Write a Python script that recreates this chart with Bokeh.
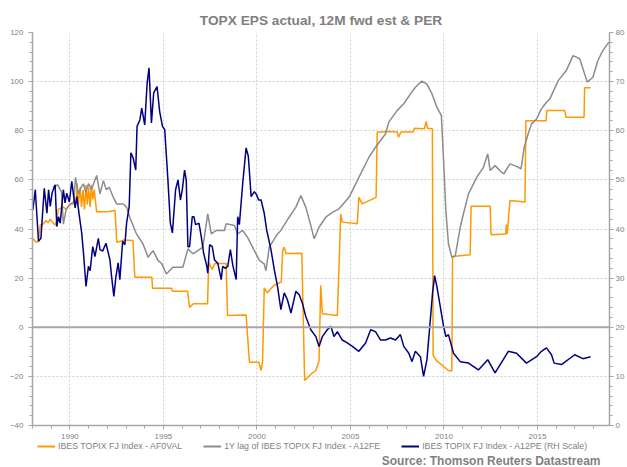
from bokeh.plotting import figure
from bokeh.layouts import column
from bokeh.models import Range1d, LinearAxis, FixedTicker, Span, Legend, LegendItem, Title
from bokeh.embed import file_html
from bokeh.resources import INLINE

# ---- data ----
eps_years = [1988.00, 1988.20, 1988.32, 1988.41, 1988.57, 1988.73, 1988.84, 1988.95, 1989.05, 1989.21,
             1989.32, 1989.37, 1989.64, 1989.80, 1990.00, 1990.33, 1990.38, 1990.45, 1990.55, 1990.62,
             1990.70, 1990.78, 1990.86, 1990.93, 1991.00, 1991.08, 1991.15, 1991.22, 1991.30, 1991.43,
             1992.00, 1992.41, 1992.51, 1992.90, 1993.37, 1993.47, 1994.38, 1994.42, 1995.43, 1995.48,
             1996.29, 1996.40, 1996.60, 1997.36, 1997.42, 1997.60, 1997.75, 1998.35, 1998.43, 1999.42,
             1999.60, 2000.10, 2000.22, 2000.30, 2000.39, 2000.55, 2000.90, 2001.30, 2001.38, 2001.46,
             2001.55, 2002.40, 2002.55, 2002.90, 2003.15, 2003.32, 2003.41, 2003.50, 2004.30, 2004.48,
             2004.56, 2005.36, 2005.45, 2005.63, 2006.37, 2006.43, 2007.00, 2007.50, 2007.57, 2007.70,
             2008.35, 2008.42, 2008.95, 2009.05, 2009.12, 2009.38, 2009.42, 2009.60, 2010.24, 2010.42,
             2010.46, 2011.40, 2011.45, 2012.47, 2012.52, 2013.30, 2013.34, 2013.38, 2013.53, 2014.33,
             2014.38, 2015.46, 2015.50, 2016.46, 2016.52, 2017.49, 2017.52, 2017.84]
eps_actual = [36.2, 34.6, 35.0, 41.5, 42.0, 43.5, 42.5, 44.0, 43.0, 41.5,
              44.0, 48.0, 49.0, 48.0, 50.0, 50.5, 58.5, 50.0, 57.0, 49.0,
              56.0, 48.0, 58.0, 50.0, 57.0, 49.0, 58.0, 52.0, 56.0, 47.0,
              47.0, 47.5, 34.6, 35.5, 35.3, 20.4, 20.4, 15.9, 15.9, 14.7,
              14.7, 8.1, 9.6, 9.6, 26.5, 23.5, 26.0, 26.0, 4.8, 5.0,
              -14.2, -14.2, -17.6, -14.0, 16.0, 14.0, 17.0, 18.5, 31.5, 32.6,
              30.0, 30.1, -21.7, -19.0, -17.6, -13.6, 17.0, 5.5, 4.8, 46.2,
              42.8, 42.1, 52.9, 50.2, 52.9, 79.4, 79.7, 79.5, 77.4, 79.5,
              79.5, 81.0, 80.8, 83.8, 81.0, 80.8, -11.5, -13.6, -17.6, -17.8,
              28.8, 29.5, 49.3, 49.3, 37.7, 38.0, 41.8, 38.0, 51.6, 51.0,
              84.1, 84.1, 88.2, 88.2, 85.5, 85.5, 97.5, 97.5]

fwd_years = [1989.10, 1989.35, 1989.55, 1989.65, 1989.80, 1990.00, 1990.20, 1990.30, 1990.45, 1990.60,
             1990.72, 1990.85, 1991.00, 1991.15, 1991.43, 1991.61, 1991.79, 1991.95, 1992.10, 1992.32,
             1992.50, 1992.85, 1993.03, 1993.20, 1993.56, 1993.91, 1994.18, 1994.45, 1994.71, 1994.90,
             1995.16, 1995.50, 1996.04, 1996.31, 1996.58, 1997.11, 1997.37, 1997.56, 1997.82, 1998.26,
             1998.35, 1998.80, 1998.97, 1999.24, 1999.50, 1999.95, 2000.13, 2000.39, 2000.48, 2000.66,
             2001.10, 2001.28, 2001.72, 2002.08, 2002.35, 2002.61, 2002.88, 2003.06, 2003.32, 2003.68,
             2004.03, 2004.39, 2004.92, 2005.28, 2005.63, 2005.99, 2006.34, 2006.87, 2007.05, 2007.49,
             2007.85, 2008.21, 2008.47, 2008.82, 2009.09, 2009.36, 2009.62, 2009.86, 2009.98, 2010.10,
             2010.24, 2010.42, 2010.60, 2010.87, 2011.04, 2011.31, 2011.75, 2012.11, 2012.34, 2012.47,
             2012.73, 2013.08, 2013.20, 2013.53, 2013.88, 2014.12, 2014.29, 2014.50, 2014.68, 2014.95,
             2015.21, 2015.48, 2015.66, 2016.11, 2016.54, 2016.90, 2017.26, 2017.66, 2017.96, 2018.23,
             2018.50, 2018.82]
fwd_lag = [57.0, 58.0, 55.0, 42.0, 48.0, 50.0, 51.0, 61.0, 54.3, 57.0,
           58.4, 55.0, 58.5, 56.0, 61.8, 54.3, 59.7, 56.0, 57.0, 52.9,
           50.2, 50.2, 48.9, 44.8, 38.0, 33.9, 28.5, 31.2, 27.2, 26.0,
           21.7, 24.4, 24.4, 31.9, 29.9, 32.6, 46.2, 38.0, 39.4, 39.4,
           42.1, 41.4, 38.0, 39.4, 36.6, 29.9, 27.2, 25.8, 23.0, 32.6,
           38.0, 39.4, 44.8, 48.9, 53.6, 48.9, 41.4, 36.0, 40.7, 44.8,
           46.8, 48.2, 52.9, 58.4, 63.8, 69.2, 73.3, 78.7, 83.5, 88.2,
           91.0, 95.0, 97.7, 100.2, 99.0, 95.0, 89.6, 86.2, 67.9, 47.5,
           34.0, 28.5, 29.0, 40.7, 46.2, 54.3, 61.0, 65.1, 70.6, 63.8,
           65.8, 63.1, 62.5, 66.5, 65.5, 64.5, 73.3, 78.7, 82.8, 84.8,
           88.9, 91.6, 93.0, 100.4, 104.5, 110.6, 109.3, 99.8, 101.8, 108.6,
           112.7, 116.1]

per_years = [1988.02, 1988.15, 1988.32, 1988.45, 1988.63, 1988.77, 1988.86, 1988.95, 1989.05, 1989.21,
             1989.30, 1989.39, 1989.48, 1989.65, 1989.74, 1989.83, 1989.97, 1990.10, 1990.19, 1990.28,
             1990.37, 1990.51, 1990.63, 1990.72, 1990.86, 1990.99, 1991.08, 1991.22, 1991.34, 1991.52,
             1991.61, 1991.75, 1991.93, 1992.14, 1992.23, 1992.35, 1992.46, 1992.58, 1992.67, 1992.82,
             1992.94, 1993.03, 1993.17, 1993.26, 1993.38, 1993.52, 1993.59, 1993.74, 1993.84, 1994.00,
             1994.13, 1994.23, 1994.36, 1994.48, 1994.66, 1994.80, 1994.95, 1995.07, 1995.24, 1995.37,
             1995.48, 1995.65, 1995.78, 1995.91, 1996.01, 1996.13, 1996.22, 1996.31, 1996.40, 1996.54,
             1996.63, 1996.72, 1996.90, 1997.02, 1997.15, 1997.32, 1997.37, 1997.47, 1997.61, 1997.73,
             1997.91, 1998.09, 1998.17, 1998.32, 1998.44, 1998.58, 1998.71, 1998.89, 1998.97, 1999.06,
             1999.24, 1999.42, 1999.54, 1999.69, 1999.86, 1999.98, 2000.09, 2000.22, 2000.39, 2000.52,
             2000.75, 2000.93, 2001.10, 2001.28, 2001.46, 2001.63, 2001.82, 2002.08, 2002.26, 2002.43,
             2002.61, 2002.88, 2003.15, 2003.32, 2003.50, 2003.76, 2003.95, 2004.12, 2004.30, 2004.56,
             2004.83, 2005.10, 2005.45, 2005.81, 2006.08, 2006.34, 2006.61, 2006.87, 2007.14, 2007.41,
             2007.67, 2007.85, 2008.12, 2008.29, 2008.47, 2008.74, 2008.91, 2009.09, 2009.27, 2009.39,
             2009.50, 2009.62, 2009.86, 2009.98, 2010.10, 2010.24, 2010.51, 2010.87, 2011.31, 2011.84,
             2012.34, 2012.73, 2013.17, 2013.44, 2013.88, 2014.41, 2014.95, 2015.21, 2015.48, 2015.75,
             2015.89, 2016.28, 2016.99, 2017.43, 2017.84]
per_vals = [43.9, 48.0, 37.5, 38.1, 48.3, 43.2, 48.0, 44.6, 47.4, 49.0,
            40.5, 42.5, 41.2, 48.0, 45.3, 47.3, 45.5, 49.7, 47.0, 44.3,
            46.6, 42.5, 39.2, 35.4, 28.3, 32.4, 31.5, 36.4, 34.4, 38.1,
            35.8, 35.5, 37.1, 33.7, 30.3, 26.3, 30.3, 33.1, 29.7, 37.5,
            36.8, 41.2, 44.6, 55.5, 54.5, 52.0, 60.9, 62.2, 64.6, 61.2,
            69.7, 72.8, 61.6, 67.7, 69.0, 63.9, 60.9, 60.2, 50.0, 41.2,
            39.2, 48.0, 50.0, 45.9, 48.0, 52.0, 50.0, 36.4, 36.4, 42.5,
            42.5, 40.9, 41.2, 38.5, 35.1, 32.4, 31.0, 36.8, 36.4, 33.7,
            33.0, 29.7, 32.4, 32.0, 32.4, 35.8, 32.6, 29.7, 42.5, 40.9,
            49.3, 56.5, 54.8, 46.6, 47.6, 47.0, 45.9, 45.9, 43.2, 39.8,
            35.8, 31.7, 28.3, 23.6, 27.0, 25.6, 22.9, 27.3, 26.6, 24.9,
            22.2, 19.5, 18.1, 16.1, 18.1, 19.5, 20.2, 18.1, 19.1, 17.4,
            16.8, 16.1, 15.1, 16.8, 19.5, 19.1, 17.4, 17.4, 17.8, 17.4,
            18.5, 16.1, 14.7, 13.0, 15.1, 14.0, 10.0, 13.4, 21.5, 27.0,
            30.5, 28.3, 22.9, 20.2, 18.1, 18.5, 14.7, 13.0, 12.7, 11.3,
            13.4, 10.7, 13.4, 15.1, 14.7, 12.7, 14.0, 15.1, 15.8, 14.4,
            12.7, 12.4, 14.4, 13.6, 14.0]

left_ticks = [-40, -20, 0, 20, 40, 60, 80, 100, 120]
right_ticks = [0, 10, 20, 30, 40, 50, 60, 70, 80]
year_ticks = [1990, 1995, 2000, 2005, 2010, 2015]

title_text = "TOPX EPS actual, 12M fwd est & PER"
legend_labels = ["IBES TOPIX FJ Index - AF0VAL",
                 "1Y lag of IBES TOPIX FJ Index - A12FE",
                 "IBES TOPIX FJ Index - A12PE (RH Scale)"]
source_text = "Source: Thomson Reuters Datastream"

# ---- styling ----
FONT = "Liberation Sans"
GREY_TXT = "#7f7f7f"
AXIS_C = "#a6a6a6"
ORANGE = "#ff9900"
GREY_L = "#8c8c8c"
NAVY = "#000080"

W = 627
H1, H2 = 442, 25

p = figure(width=W, height=H1, output_backend="svg", toolbar_location=None,
           x_range=Range1d(1988.0, 2018.85), y_range=Range1d(-40, 120),
           min_border_left=32, min_border_right=15, min_border_top=32, min_border_bottom=17)
p.extra_y_ranges = {"rh": Range1d(0, 80)}
p.outline_line_color = None
p.background_fill_color = "white"
p.border_fill_color = "white"

p.title.text = title_text
p.title.align = "center"
p.title.text_font = FONT
p.title.text_font_size = "13.7px"
p.title.text_font_style = "bold"
p.title.text_color = GREY_TXT
p.title.standoff = 10

def style_axis(ax, standoff):
    ax.axis_line_color = AXIS_C
    ax.axis_line_width = 1.5
    ax.major_tick_line_color = AXIS_C
    ax.minor_tick_line_color = AXIS_C
    ax.major_tick_out = 4
    ax.major_tick_in = 0
    ax.minor_tick_out = 3
    ax.minor_tick_in = 0
    ax.major_label_text_font = FONT
    ax.major_label_text_font_size = "8px"
    ax.major_label_text_color = GREY_TXT
    ax.major_label_standoff = standoff

p.yaxis.ticker = FixedTicker(ticks=left_ticks, minor_ticks=list(range(-40, 121, 4)))
p.xaxis.ticker = FixedTicker(ticks=year_ticks, minor_ticks=list(range(1988, 2019)))
rax = LinearAxis(y_range_name="rh", ticker=FixedTicker(ticks=right_ticks, minor_ticks=list(range(0, 81, 2))))
p.add_layout(rax, "right")
style_axis(p.xaxis[0], 4)
style_axis(p.yaxis[0], 5)
style_axis(rax, 2)

p.xgrid.grid_line_color = "#d0d0d0"
p.xgrid.grid_line_dash = "2 2"
p.ygrid.grid_line_color = "#d0d0d0"
p.ygrid.grid_line_dash = "2 2"

p.add_layout(Span(location=0, dimension="width", line_color=AXIS_C, line_width=2))

p.line(eps_years, eps_actual, line_color=ORANGE, line_width=1.5)
p.line(fwd_years, fwd_lag, line_color=GREY_L, line_width=1.5)
p.line(per_years, per_vals, line_color=NAVY, line_width=1.5, y_range_name="rh")

# ---- legend + source strip (its frame is aligned with the main frame by the column) ----
p2 = figure(width=W, height=H2, output_backend="svg", toolbar_location=None,
            x_range=Range1d(0, 1), y_range=Range1d(0, 1),
            x_axis_location=None, y_axis_location=None,
            min_border_left=0, min_border_right=0, min_border_top=0, min_border_bottom=0)
p2.outline_line_color = None
p2.grid.visible = False
p2.background_fill_color = "white"
p2.border_fill_color = "white"

# legend swatches: the same series drawn on the strip, outside its visible range
d1 = p2.line(eps_years, eps_actual, line_color=ORANGE, line_width=2)
d2 = p2.line(fwd_years, fwd_lag, line_color=GREY_L, line_width=2)
d3 = p2.line(per_years, per_vals, line_color=NAVY, line_width=2)

legend = Legend(items=[LegendItem(label=legend_labels[0], renderers=[d1]),
                       LegendItem(label=legend_labels[1], renderers=[d2]),
                       LegendItem(label=legend_labels[2], renderers=[d3])],
                orientation="horizontal", location=(5, 0),
                border_line_alpha=0, background_fill_alpha=0,
                label_text_font=FONT, label_text_font_size="8.8px", label_text_color=GREY_TXT,
                glyph_width=18, glyph_height=8, label_height=9, label_standoff=3,
                spacing=21, padding=0, margin=0)
p2.add_layout(legend, "center")

src = Title(text=source_text, align="right", offset=9, standoff=0,
            text_font=FONT, text_font_size="12px", text_font_style="bold", text_color=GREY_TXT)
p2.add_layout(src, "below")

layout = column(p, p2, spacing=0)
open("out.html", "w").write(file_html(layout, INLINE))
